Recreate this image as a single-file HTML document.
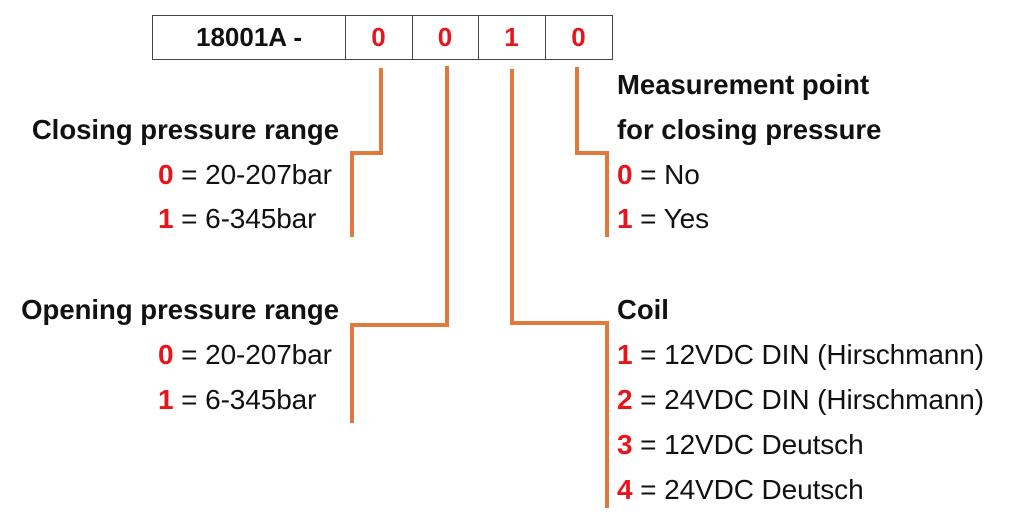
<!DOCTYPE html>
<html><head><meta charset="utf-8"><style>
body{margin:0;width:1024px;height:532px;background:#fff;position:relative;font-family:"Liberation Sans",sans-serif;overflow:hidden}
.t{position:absolute;font-size:28px;line-height:30px;color:#111;white-space:nowrap;letter-spacing:-0.1px}
.b{font-weight:bold;font-size:27.5px;letter-spacing:0}
.r{color:#e8141c;font-weight:bold}
.R{text-align:right;width:339px;left:0}
.L{left:617px}
.box{position:absolute;top:15px;height:45px;border:1px solid #444;box-sizing:border-box;font-weight:bold;font-size:26px;line-height:43px;text-align:center}
</style></head><body>
<div class="box" style="left:152px;width:194px;color:#111">18001A -</div>
<div class="box" style="left:345px;width:68px;color:#e8141c;border-left:none">0</div>
<div class="box" style="left:412px;width:67px;color:#e8141c;border-left:none">0</div>
<div class="box" style="left:478px;width:68px;color:#e8141c;border-left:none">1</div>
<div class="box" style="left:545px;width:68px;color:#e8141c;border-left:none">0</div>
<svg width="1024" height="532" style="position:absolute;left:0;top:0" fill="none" stroke="#e07a3c" stroke-width="4">
<polyline points="381,68 381,153 352,153 352,237"/>
<polyline points="447,66 447,325 352,325 352,423"/>
<polyline points="512,69 512,323 607,323 607,508"/>
<polyline points="577,67 577,153 607,153 607,237"/>
</svg>
<div class="t R b" style="top:115px">Closing pressure range</div>
<div class="t" style="top:160px;left:158px"><span class="r">0</span> = 20-207bar</div>
<div class="t" style="top:204px;left:158px"><span class="r">1</span> = 6-345bar</div>
<div class="t R b" style="top:295px">Opening pressure range</div>
<div class="t" style="top:340px;left:158px"><span class="r">0</span> = 20-207bar</div>
<div class="t" style="top:385px;left:158px"><span class="r">1</span> = 6-345bar</div>
<div class="t L b" style="top:70px">Measurement point</div>
<div class="t L b" style="top:115px">for closing pressure</div>
<div class="t L" style="top:160px"><span class="r">0</span> = No</div>
<div class="t L" style="top:204px"><span class="r">1</span> = Yes</div>
<div class="t L b" style="top:295px">Coil</div>
<div class="t L" style="top:340px"><span class="r">1</span> = 12VDC DIN (Hirschmann)</div>
<div class="t L" style="top:385px"><span class="r">2</span> = 24VDC DIN (Hirschmann)</div>
<div class="t L" style="top:430px"><span class="r">3</span> = 12VDC Deutsch</div>
<div class="t L" style="top:475px"><span class="r">4</span> = 24VDC Deutsch</div>
</body></html>
